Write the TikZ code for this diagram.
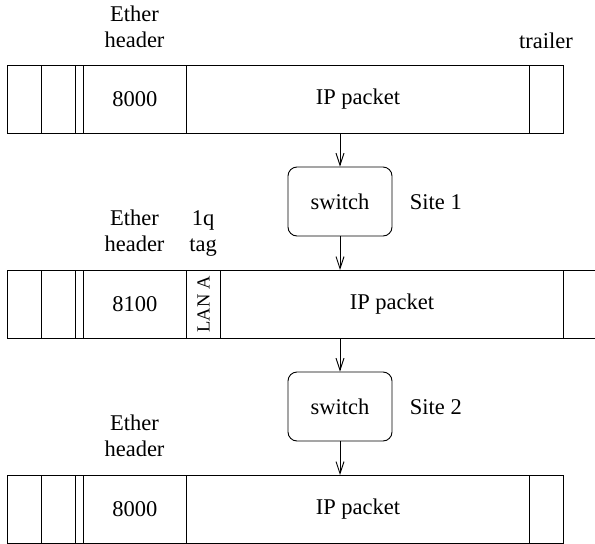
\documentclass[tikz,border=0pt]{standalone}
\usepackage{fontspec}
\setmainfont{Liberation Serif}
\usetikzlibrary{arrows.meta}
\begin{document}
\begin{tikzpicture}[x=1pt,y=-1pt,line width=0.9pt,
  txt/.style={font=\fontsize{22.5}{26}\selectfont},
  cell/.style={draw, txt, anchor=north west, inner sep=0pt, minimum height=68pt},
  lbl/.style={txt, align=center, inner sep=0pt, text depth=0pt},
  sw/.style={draw, txt, rounded corners=9pt, inner sep=0pt, minimum width=104pt, minimum height=69pt},
  arr/.style={-{Straight Barb[length=12pt,width=8pt]}}]
\useasboundingbox (0,0) rectangle (595,544);
% frame 1
\node[cell, minimum width=34pt] (a1) at (7,65) {};
\node[cell, minimum width=34pt] (b1) at (41,65) {};
\node[cell, minimum width=8pt] (c1) at (75,65) {};
\node[cell, minimum width=103pt] (h1) at (83,65) {8000};
\node[cell, minimum width=343pt] (ip1) at (186,65) {IP packet};
\node[cell, minimum width=34pt] (t1) at (529,65) {};
\node[lbl, anchor=south] (eh1) at (134.5,48) {Ether\\header};
\node[lbl, anchor=base] (tr1) at (546,48) {trailer};
% switch 1
\node[sw] (sw1) at (340,201.5) {switch};
\node[lbl, anchor=base west] (site1) at ([xshift=17pt]sw1.base east) {Site 1};
% frame 2
\node[cell, minimum width=34pt] (a2) at (7,270) {};
\node[cell, minimum width=34pt] (b2) at (41,270) {};
\node[cell, minimum width=8pt] (c2) at (75,270) {};
\node[cell, minimum width=103pt] (h2) at (83,270) {8100};
\node[cell, minimum width=34pt] (q2) at (186,270) {};
\node[font=\fontsize{18.5}{22}\selectfont, rotate=90, inner sep=0pt] (lan) at (q2.center) {LAN A};
\node[cell, minimum width=343pt] (ip2) at (220,270) {IP packet};
\node[cell, minimum width=40pt] (t2) at (563,270) {};
\node[lbl, anchor=south] (eh2) at (134.5,252) {Ether\\header};
\node[lbl, anchor=south] (tag2) at (203,252) {1q\\tag};
% switch 2
\node[sw] (sw2) at (340,406.5) {switch};
\node[lbl, anchor=base west] (site2) at ([xshift=17pt]sw2.base east) {Site 2};
% frame 3
\node[cell, minimum width=34pt] (a3) at (7,475) {};
\node[cell, minimum width=34pt] (b3) at (41,475) {};
\node[cell, minimum width=8pt] (c3) at (75,475) {};
\node[cell, minimum width=103pt] (h3) at (83,475) {8000};
\node[cell, minimum width=343pt] (ip3) at (186,475) {IP packet};
\node[cell, minimum width=34pt] (t3) at (529,475) {};
\node[lbl, anchor=south] (eh3) at (134.5,457) {Ether\\header};
% arrows
\draw[arr] (ip1.south -| sw1.north) -- (sw1.north);
\draw[arr] (sw1.south) -- (sw1.south |- ip2.north);
\draw[arr] (ip2.south -| sw2.north) -- (sw2.north);
\draw[arr] (sw2.south) -- (sw2.south |- ip3.north);
\end{tikzpicture}
\end{document}
